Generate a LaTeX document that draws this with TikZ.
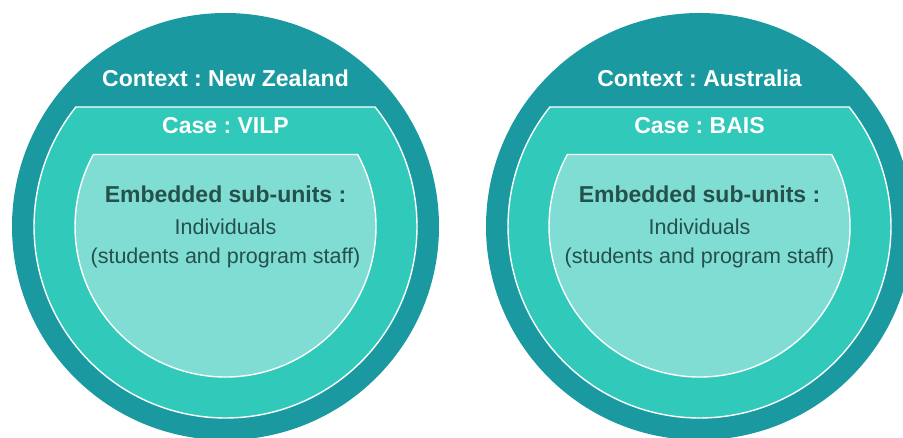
\documentclass[tikz,border=0pt]{standalone}
\usepackage{fontspec}
\setmainfont{Liberation Sans}
\frenchspacing
\definecolor{ctxteal}{HTML}{1A9AA0}
\definecolor{caseteal}{HTML}{31C9BA}
\definecolor{unitteal}{HTML}{80DDD3}
\definecolor{darktext}{HTML}{25504C}
\tikzset{
  contextdisc/.style={circle, fill=ctxteal, minimum size=427pt, inner sep=0pt},
  ring/.style={draw=white, line width=1.4pt},
  headtext/.style={anchor=base, text=white, font=\fontsize{23}{27}\selectfont\bfseries, inner sep=0pt},
  unithead/.style={anchor=base, text=darktext, font=\fontsize{23}{27}\selectfont\bfseries, inner sep=0pt},
  unitbody/.style={anchor=base, text=darktext, font=\fontsize{21.5}{25}\selectfont, inner sep=0pt},
}
\begin{document}
\begin{tikzpicture}[x=1pt, y=-1pt]
\useasboundingbox (0,0) rectangle (903,438);
\clip (0,0) rectangle (903,438);
\fill[white] (0,0) rectangle (903,438);

% left study: New Zealand
\coordinate (cA) at (225.5,226.5);
\node[contextdisc] (ctxA) at (cA) {};
\filldraw[ring, fill=caseteal] (cA) ++(-38.6:191.5) arc[start angle=-38.6, end angle=218.6, radius=191.5] -- cycle;
\filldraw[ring, fill=unitteal] (cA) ++(-28.6:150.5) arc[start angle=-28.6, end angle=208.6, radius=150.5] -- cycle;
\node[headtext] (ctxAlbl) at (225.5,87) {Context : New Zealand};
\node[headtext] (caseAlbl) at (225.5,134) {Case : VILP};
\node[unithead] (unitAhead) at (225.5,202.5) {Embedded sub-units :};
\node[unitbody] (unitAind) at (225.5,234.3) {Individuals};
\node[unitbody] (unitAwho) at (225.5,264) {(students and program staff)};

% right study: Australia
\coordinate (cB) at (699.5,226.5);
\node[contextdisc] (ctxB) at (cB) {};
\filldraw[ring, fill=caseteal] (cB) ++(-38.6:191.5) arc[start angle=-38.6, end angle=218.6, radius=191.5] -- cycle;
\filldraw[ring, fill=unitteal] (cB) ++(-28.6:150.5) arc[start angle=-28.6, end angle=208.6, radius=150.5] -- cycle;
\node[headtext] (ctxBlbl) at (699.5,87) {Context : Australia};
\node[headtext] (caseBlbl) at (699.5,134) {Case : BAIS};
\node[unithead] (unitBhead) at (699.5,202.5) {Embedded sub-units :};
\node[unitbody] (unitBind) at (699.5,234.3) {Individuals};
\node[unitbody] (unitBwho) at (699.5,264) {(students and program staff)};
\end{tikzpicture}
\end{document}
